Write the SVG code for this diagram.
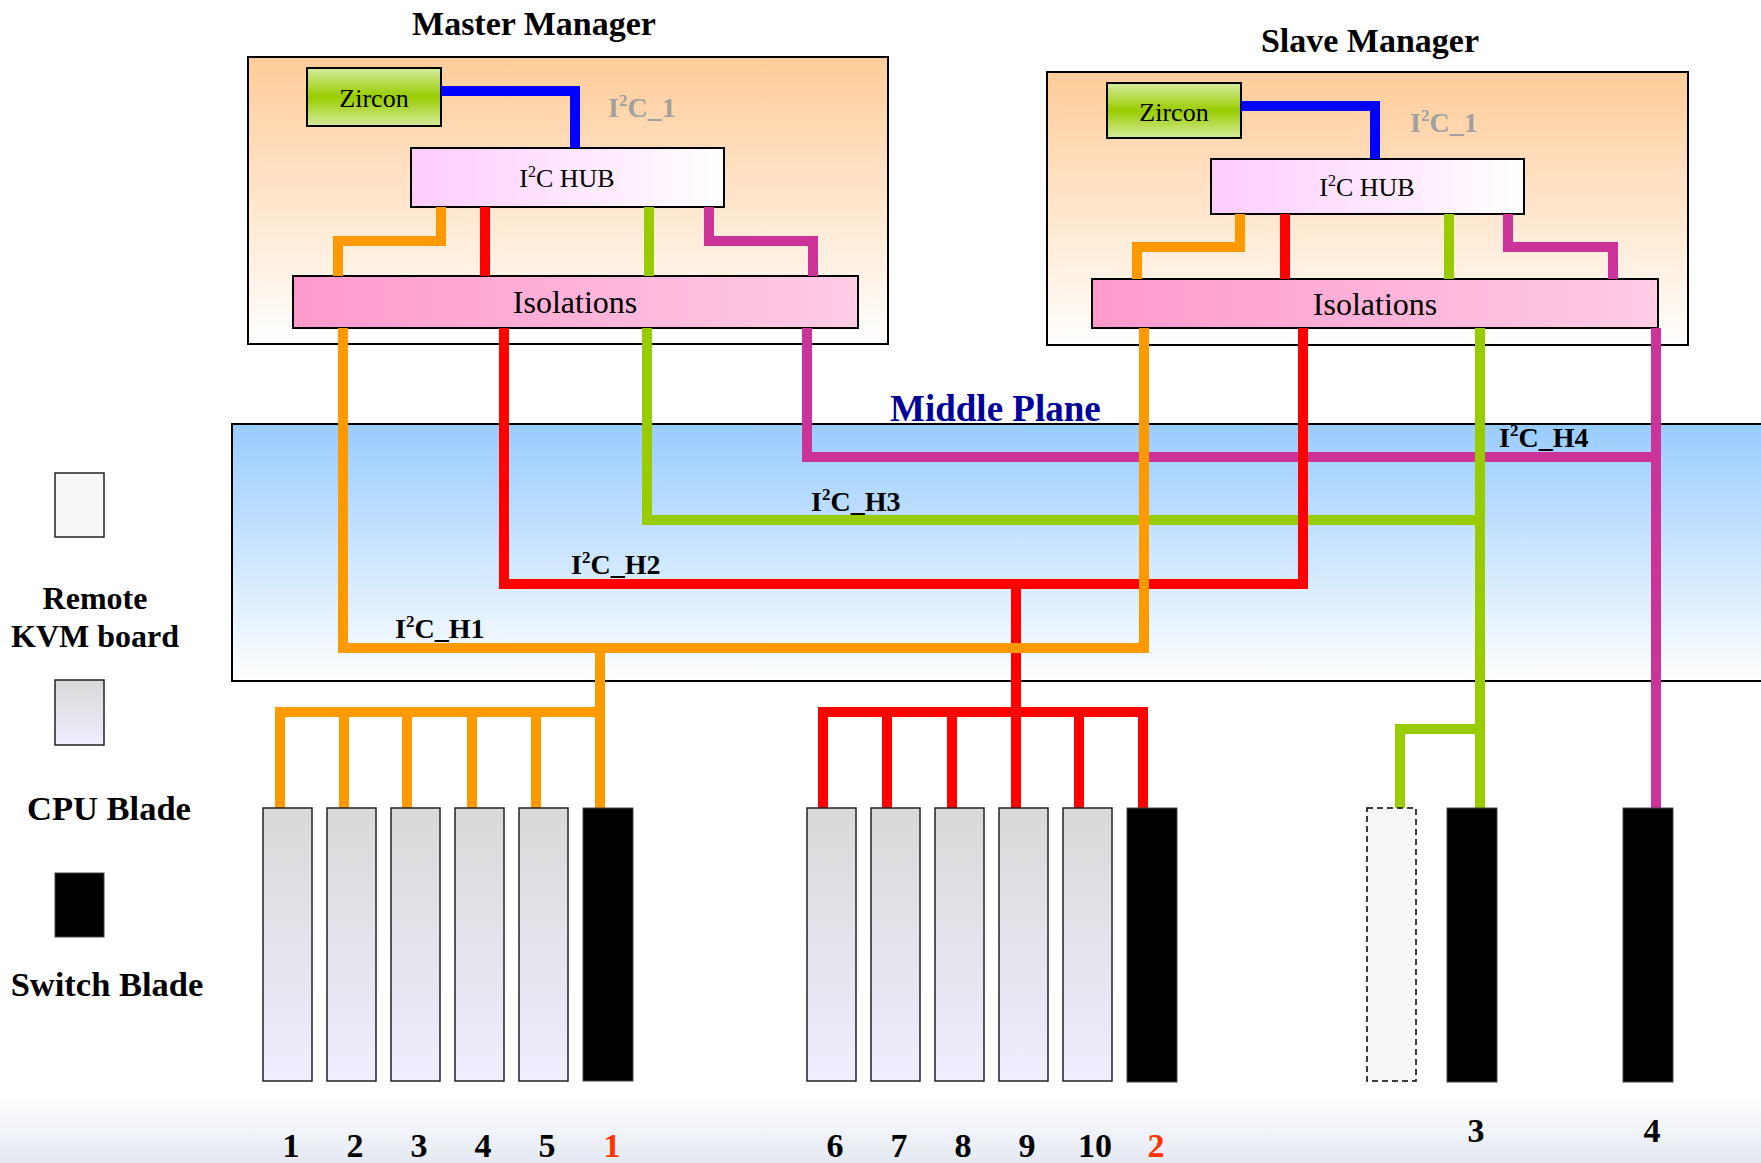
<svg xmlns="http://www.w3.org/2000/svg" width="1761" height="1163" viewBox="0 0 1761 1163">
<defs>
<linearGradient id="gMgr" x1="0" y1="0" x2="0" y2="1"><stop offset="0" stop-color="#FFCC99"/><stop offset="1" stop-color="#FFFFFF"/></linearGradient>
<linearGradient id="gZir" x1="0" y1="0" x2="0" y2="1"><stop offset="0" stop-color="#D6EC9E"/><stop offset="0.5" stop-color="#99CC00"/><stop offset="1" stop-color="#D6EC9E"/></linearGradient>
<linearGradient id="gHub" x1="0" y1="0" x2="1" y2="0"><stop offset="0" stop-color="#FFCCFF"/><stop offset="1" stop-color="#FFFFFF"/></linearGradient>
<linearGradient id="gIso" x1="0" y1="0" x2="1" y2="0"><stop offset="0" stop-color="#FF99CC"/><stop offset="1" stop-color="#FFCCE5"/></linearGradient>
<linearGradient id="gMid" x1="0" y1="0" x2="0" y2="1"><stop offset="0" stop-color="#99CCFF"/><stop offset="1" stop-color="#FFFFFF"/></linearGradient>
<linearGradient id="gCpu" x1="0" y1="0" x2="0" y2="1"><stop offset="0" stop-color="#D9D9D9"/><stop offset="1" stop-color="#EEEEFF"/></linearGradient>
<linearGradient id="gBg" x1="0" y1="0" x2="0" y2="1"><stop offset="0" stop-color="#FFFFFF"/><stop offset="1" stop-color="#E4E9F2"/></linearGradient>
<style>
.t{font-family:"Liberation Serif","Times New Roman",serif;fill:#000}
.b{font-weight:bold}
.box{stroke:#000;stroke-width:2}
.cpu{fill:url(#gCpu);stroke:#222;stroke-width:1.5}
.sw{fill:#000;stroke:#444;stroke-width:1}
.w{fill:none;stroke-width:10;stroke-linejoin:miter;stroke-linecap:butt}
.bl{stroke:#0000FF}.or{stroke:#FF9900}.rd{stroke:#FF0000}.gr{stroke:#99CC00}.mg{stroke:#CC3399}
.lbl{font-family:"Liberation Serif","Times New Roman",serif;font-weight:bold;font-size:28px;fill:#000}
.num{font-family:"Liberation Serif","Times New Roman",serif;font-weight:bold;font-size:34px;fill:#000;text-anchor:middle}
</style>
</defs>
<rect x="0" y="0" width="1761" height="1163" fill="#FFFFFF"/>
<rect x="0" y="1095" width="1761" height="68" fill="url(#gBg)"/>

<g id="middle-plane">
<rect x="232" y="424" width="1535" height="257" fill="url(#gMid)" class="box"/>
<text x="890" y="421" class="t b" font-size="37" style="fill:#000099">Middle Plane</text>
</g>

<g id="master-manager">
<text x="534" y="35" class="t b" font-size="34" text-anchor="middle">Master Manager</text>
<rect x="248" y="57" width="640" height="287" fill="url(#gMgr)" class="box"/>
</g>
<g id="master-zircon">
<rect x="307" y="68" width="134" height="58" fill="url(#gZir)" class="box"/>
<text x="374" y="107" class="t" font-size="26" text-anchor="middle">Zircon</text>
</g>
<g id="master-hub">
<rect x="411" y="148" width="313" height="59" fill="url(#gHub)" class="box"/>
<text x="567" y="187" class="t" font-size="26" text-anchor="middle">I<tspan font-size="16" dy="-10">2</tspan><tspan dy="10">C HUB</tspan></text>
</g>
<g id="master-isolations">
<rect x="293" y="276" width="565" height="52" fill="url(#gIso)" class="box"/>
<text x="575" y="313" class="t" font-size="32" text-anchor="middle">Isolations</text>
</g>
<text x="608" y="117" class="t b" font-size="28" style="fill:#A0A0A0">I<tspan font-size="17" dy="-11">2</tspan><tspan dy="11">C_1</tspan></text>

<g id="slave-manager">
<text x="1370" y="52" class="t b" font-size="34" text-anchor="middle">Slave Manager</text>
<rect x="1047" y="72" width="641" height="273" fill="url(#gMgr)" class="box"/>
</g>
<g id="slave-zircon">
<rect x="1107" y="83" width="134" height="55" fill="url(#gZir)" class="box"/>
<text x="1174" y="121" class="t" font-size="26" text-anchor="middle">Zircon</text>
</g>
<g id="slave-hub">
<rect x="1211" y="159" width="313" height="55" fill="url(#gHub)" class="box"/>
<text x="1367" y="196" class="t" font-size="26" text-anchor="middle">I<tspan font-size="16" dy="-10">2</tspan><tspan dy="10">C HUB</tspan></text>
</g>
<g id="slave-isolations">
<rect x="1092" y="279" width="566" height="49" fill="url(#gIso)" class="box"/>
<text x="1375" y="315" class="t" font-size="32" text-anchor="middle">Isolations</text>
</g>
<text x="1410" y="132" class="t b" font-size="28" style="fill:#A0A0A0">I<tspan font-size="17" dy="-11">2</tspan><tspan dy="11">C_1</tspan></text>

<g id="connectors">
<polyline class="w bl" points="441,91 575,91 575,148"/>
<polyline class="w bl" points="1241,106 1375,106 1375,159"/>
<polyline class="w or" points="441,207 441,241 338,241 338,276"/>
<polyline class="w rd" points="485,207 485,276"/>
<polyline class="w gr" points="649,207 649,276"/>
<polyline class="w mg" points="709,207 709,241 813,241 813,276"/>
<polyline class="w or" points="1240,214 1240,247 1137,247 1137,279"/>
<polyline class="w rd" points="1285,214 1285,279"/>
<polyline class="w gr" points="1449,214 1449,279"/>
<polyline class="w mg" points="1508,214 1508,247 1613,247 1613,279"/>

<polyline class="w mg" points="807,328 807,457 1656,457"/>
<polyline class="w mg" points="1656,328 1656,808"/>
<polyline class="w gr" points="647,328 647,520 1480,520"/>
<polyline class="w gr" points="1480,328 1480,808"/>
<polyline class="w gr" points="1480,729 1400,729 1400,808"/>
<polyline class="w rd" points="504,328 504,584 1303,584 1303,328"/>
<polyline class="w rd" points="1016,584 1016,808"/>
<polyline class="w rd" points="823,808 823,712 1143,712 1143,808"/>
<polyline class="w rd" points="887,712 887,808"/>
<polyline class="w rd" points="952,712 952,808"/>
<polyline class="w rd" points="1079,712 1079,808"/>
<polyline class="w or" points="343,328 343,648 1144,648 1144,328"/>
<polyline class="w or" points="600,648 600,808"/>
<polyline class="w or" points="280,808 280,712 600,712"/>
<polyline class="w or" points="344,712 344,808"/>
<polyline class="w or" points="407,712 407,808"/>
<polyline class="w or" points="472,712 472,808"/>
<polyline class="w or" points="536,712 536,808"/>
</g>

<g id="bus-labels">
<text x="395" y="638" class="lbl">I<tspan font-size="17" dy="-11">2</tspan><tspan dy="11">C_H1</tspan></text>
<text x="571" y="574" class="lbl">I<tspan font-size="17" dy="-11">2</tspan><tspan dy="11">C_H2</tspan></text>
<text x="811" y="511" class="lbl">I<tspan font-size="17" dy="-11">2</tspan><tspan dy="11">C_H3</tspan></text>
<text x="1499" y="447" class="lbl">I<tspan font-size="17" dy="-11">2</tspan><tspan dy="11">C_H4</tspan></text>
</g>

<g id="cpu-1"><rect x="263" y="808" width="49" height="273" class="cpu"/><text x="291" y="1157" class="num">1</text></g>
<g id="cpu-2"><rect x="327" y="808" width="49" height="273" class="cpu"/><text x="355" y="1157" class="num">2</text></g>
<g id="cpu-3"><rect x="391" y="808" width="49" height="273" class="cpu"/><text x="419" y="1157" class="num">3</text></g>
<g id="cpu-4"><rect x="455" y="808" width="49" height="273" class="cpu"/><text x="483" y="1157" class="num">4</text></g>
<g id="cpu-5"><rect x="519" y="808" width="49" height="273" class="cpu"/><text x="547" y="1157" class="num">5</text></g>
<g id="switch-1"><rect x="583" y="808" width="50" height="273" class="sw"/><text x="612" y="1157" class="num" style="fill:#FF3300">1</text></g>
<g id="cpu-6"><rect x="807" y="808" width="49" height="273" class="cpu"/><text x="835" y="1157" class="num">6</text></g>
<g id="cpu-7"><rect x="871" y="808" width="49" height="273" class="cpu"/><text x="899" y="1157" class="num">7</text></g>
<g id="cpu-8"><rect x="935" y="808" width="49" height="273" class="cpu"/><text x="963" y="1157" class="num">8</text></g>
<g id="cpu-9"><rect x="999" y="808" width="49" height="273" class="cpu"/><text x="1027" y="1157" class="num">9</text></g>
<g id="cpu-10"><rect x="1063" y="808" width="49" height="273" class="cpu"/><text x="1095" y="1157" class="num">10</text></g>
<g id="switch-2"><rect x="1127" y="808" width="50" height="274" class="sw"/><text x="1156" y="1157" class="num" style="fill:#FF3300">2</text></g>
<g id="kvm"><rect x="1367" y="808" width="49" height="273" fill="#F7F7F7" stroke="#000" stroke-width="1.5" stroke-dasharray="6,4"/></g>
<g id="switch-3"><rect x="1447" y="808" width="50" height="274" class="sw"/><text x="1476" y="1142" class="num">3</text></g>
<g id="switch-4"><rect x="1623" y="808" width="50" height="274" class="sw"/><text x="1652" y="1142" class="num">4</text></g>

<g id="legend">
<rect x="55" y="473" width="49" height="64" fill="#F7F7F7" stroke="#222" stroke-width="1.5"/>
<text x="95" y="609" class="t b" font-size="32" text-anchor="middle">Remote</text>
<text x="95" y="647" class="t b" font-size="32" text-anchor="middle">KVM board</text>
<rect x="55" y="680" width="49" height="65" class="cpu"/>
<text x="109" y="820" class="t b" font-size="34.5" text-anchor="middle">CPU Blade</text>
<rect x="55" y="873" width="49" height="64" class="sw"/>
<text x="107" y="996" class="t b" font-size="34.5" text-anchor="middle">Switch Blade</text>
</g>
</svg>
